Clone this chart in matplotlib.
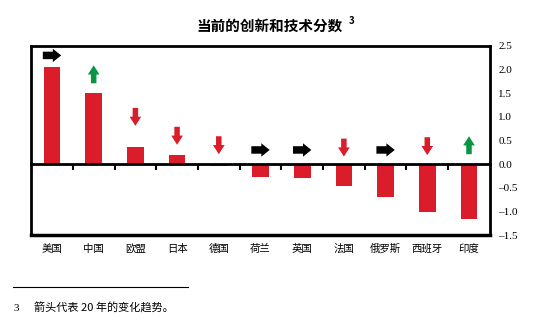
import matplotlib.pyplot as plt
import numpy as np

# data
countries = ['美国', '中国', '欧盟', '日本', '德国', '荷兰', '英国', '法国', '俄罗斯', '西班牙', '印度']
scores = [2.05, 1.50, 0.36, 0.20, -0.04, -0.28, -0.30, -0.46, -0.69, -1.01, -1.16]
trend = ['r', 'u', 'd', 'd', 'd', 'r', 'r', 'd', 'r', 'd', 'u']   # 20-year trend arrows
arrow_y = [2.30, 1.90, 1.00, 0.60, 0.40, 0.30, 0.30, 0.35, 0.30, 0.38, 0.40]
yticks = [-1.5, -1.0, -0.5, 0.0, 0.5, 1.0, 1.5, 2.0, 2.5]

red = '#DA1C2B'
green = '#0B9444'
arrow_col = {'r': 'black', 'u': green, 'd': red}

cjk = ['Noto Sans CJK SC', 'DejaVu Sans']
serif = ['Liberation Serif', 'Noto Sans CJK SC']

fig = plt.figure(figsize=(5.56, 3.26), dpi=100)
ax = fig.add_axes([0.056, 0.279, 0.825, 0.58])

x = np.arange(len(countries))
ax.bar(x, scores, width=0.4, color=red, zorder=2)

# trend arrows
for i in range(len(countries)):
    d = trend[i]
    y = arrow_y[i]
    if d == 'r':
        start, end = (i - 0.22, y), (i + 0.22, y)
        st = 'simple,head_length=0.5,head_width=0.8,tail_width=0.45'
    elif d == 'u':
        start, end = (i, y - 0.19), (i, y + 0.19)
        st = 'simple,head_length=0.55,head_width=0.7,tail_width=0.33'
    else:
        start, end = (i, y + 0.19), (i, y - 0.19)
        st = 'simple,head_length=0.55,head_width=0.7,tail_width=0.33'
    ax.annotate('', xy=end, xytext=start,
                arrowprops=dict(arrowstyle=st, color=arrow_col[d], lw=0,
                                mutation_scale=12, shrinkA=0, shrinkB=0))

ax.set_xlim(-0.5, len(countries) - 0.5)
ax.set_ylim(-1.5, 2.5)

# zero line acts as the x axis, ticks between categories
ax.spines['bottom'].set_position(('data', 0))
ax.set_xticks(x[:-1] + 0.5)
ax.set_xticklabels([])
ax.tick_params(axis='x', direction='out', length=4, width=1.5, color='black')
for s in ax.spines.values():
    s.set_linewidth(2)
ax.plot([0, 1], [0, 0], transform=ax.transAxes, color='black', lw=2.5,
        clip_on=False, zorder=3)

for i, c in enumerate(countries):
    ax.text(i, -0.045, c, transform=ax.get_xaxis_transform(), ha='center', va='top',
            fontsize=7.5, family=cjk)

ax.yaxis.tick_right()
ax.set_yticks(yticks)
ax.set_yticklabels([f'{v:.1f}'.replace('-', '\u2013') for v in yticks],
                   family=serif, fontsize=8)
ax.tick_params(axis='y', length=0, pad=6)

fig.text(0.485, 0.92, '当前的创新和技术分数', ha='center', va='center',
         fontsize=10.5, fontweight='bold', family=cjk)
fig.text(0.627, 0.935, '3', ha='left', va='center', fontsize=7, fontweight='bold',
         family=cjk)

# footnote
fig.add_artist(plt.Line2D([0.024, 0.338], [0.121, 0.121], color='black', lw=0.8))
fig.text(0.024, 0.055, '3', ha='left', va='center', fontsize=8, family=serif)
fig.text(0.062, 0.055, '箭头代表 20 年的变化趋势。', ha='left', va='center',
         fontsize=8, family=cjk)

fig.savefig('out.png', dpi=100)
